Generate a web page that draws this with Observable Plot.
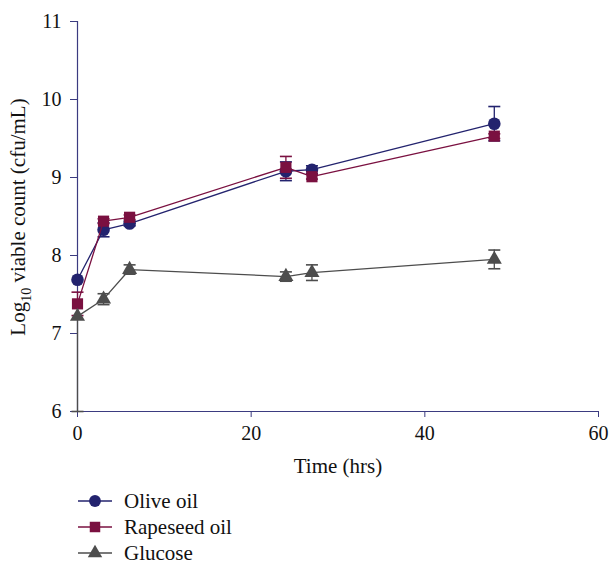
<!DOCTYPE html>
<html><head><meta charset="utf-8">
<script src="https://cdn.jsdelivr.net/npm/d3@7"></script>
<script src="https://cdn.jsdelivr.net/npm/@observablehq/plot@0.6"></script>
<style>
body{margin:0;background:#fff;font-family:"Liberation Serif","DejaVu Serif",serif;overflow:hidden;}
#legend{margin-left:78px;margin-top:10px;font-size:21px;line-height:24px;color:#111;}
.li{display:flex;align-items:center;height:26px;}
.li svg{margin-right:12px;}
</style>
</head><body>
<div id="chart"></div>
<div id="legend"></div>
<script>
const times = [0, 3, 6, 24, 27, 48];
const series = ["Olive oil", "Rapeseed oil", "Glucose"];
const oliveMean = [7.69, 8.33, 8.41, 9.08, 9.10, 9.69];
const oliveErr  = [0.00, 0.09, 0.03, 0.12, 0.05, 0.22];
const rapeMean  = [7.38, 8.44, 8.49, 9.13, 9.01, 9.53];
const rapeErr   = [0.15, 0.03, 0.03, 0.14, 0.03, 0.03];
const glucMean  = [7.22, 7.44, 7.82, 7.73, 7.78, 7.95];
const glucErrLo = [1.22, 0.07, 0.06, 0.06, 0.10, 0.12];
const glucErrHi = [0.00, 0.07, 0.06, 0.06, 0.10, 0.12];
const colors = ["#23236e", "#7a1040", "#4d4d4d"];
const symbols = ["circle", "square", "triangle"];
const symSize = [6.3, 6.3, 5.6];

const means = [oliveMean, rapeMean, glucMean];
const errLo = [oliveErr, rapeErr, glucErrLo];
const errHi = [oliveErr, rapeErr, glucErrHi];
const data = [];
series.forEach((s, i) => times.forEach((t, j) => data.push({
  series: s, t, v: means[i][j],
  lo: Math.max(6, means[i][j] - errLo[i][j]), hi: means[i][j] + errHi[i][j],
  hasLo: errLo[i][j] > 0, hasHi: errHi[i][j] > 0
})));

const cap = {draw(ctx, size){ const w = 6; ctx.moveTo(-w, 0); ctx.lineTo(w, 0); }};

const marks = [
  Plot.ruleY([6], {stroke: "#3b3b80", strokeWidth: 1.2}),
  Plot.ruleX([0], {y1: 6, y2: 11, stroke: "#3b3b80", strokeWidth: 1.2}),
];
series.forEach((s, i) => {
  const d = data.filter(r => r.series === s);
  marks.push(
    Plot.ruleX(d, {x: "t", y1: "lo", y2: "hi", stroke: colors[i], strokeWidth: 1.3}),
    Plot.dot(d.filter(r => r.hasLo), {x: "t", y: "lo", symbol: cap, stroke: colors[i], strokeWidth: 1.6}),
    Plot.dot(d.filter(r => r.hasHi), {x: "t", y: "hi", symbol: cap, stroke: colors[i], strokeWidth: 1.6}),
  );
});
series.forEach((s, i) => {
  const d = data.filter(r => r.series === s);
  marks.push(
    Plot.line(d, {x: "t", y: "v", stroke: colors[i], strokeWidth: 1.3}),
    Plot.dot(d, {x: "t", y: "v", symbol: symbols[i], fill: colors[i], r: symSize[i], stroke: "none"})
  );
});

const chart = Plot.plot({
  width: 611, height: 478,
  marginLeft: 77, marginRight: 13, marginTop: 21, marginBottom: 67,
  style: {fontFamily: '"Liberation Serif","DejaVu Serif",serif', fontSize: "20px", color: "#111", background: "#fff"},
  x: {domain: [0, 60], label: null},
  y: {domain: [6, 11], label: null},
  marks: [
    Plot.axisX({ticks: [0, 20, 40, 60], tickFormat: "d", tickSize: 6, tickPadding: 8, stroke: "#3b3b80", label: null, fill: "#111", fontSize: 20}),
    Plot.axisY({ticks: [6, 7, 8, 9, 10, 11], tickFormat: "d", tickSize: 7, tickPadding: 9, stroke: "#3b3b80", label: null, fill: "#111", fontSize: 20}),
    ...marks
  ]
});
document.getElementById("chart").appendChild(chart);

const svg = d3.select(chart);
svg.append("text").attr("x", 338).attr("y", 473).attr("text-anchor", "middle")
  .attr("font-size", 21).attr("fill", "#111").text("Time (hrs)");
const yl = svg.append("text").attr("transform", "translate(25,217) rotate(-90)")
  .attr("text-anchor", "middle").attr("font-size", 21).attr("fill", "#111");
yl.append("tspan").text("Log");
yl.append("tspan").attr("font-size", 14).attr("dy", 6).text("10");
yl.append("tspan").attr("dy", -6).text(" viable count (cfu/mL)");

const leg = d3.select("#legend");
series.forEach((s, i) => {
  const row = leg.append("div").attr("class", "li");
  const sv = row.append("svg").attr("width", 34).attr("height", 18);
  sv.append("line").attr("x1", 0).attr("x2", 34).attr("y1", 9).attr("y2", 9).attr("stroke", colors[i]).attr("stroke-width", 1.3);
  sv.append("path").attr("transform", "translate(17,9)").attr("fill", colors[i])
    .attr("d", d3.symbol(i === 0 ? d3.symbolCircle : i === 1 ? d3.symbolSquare : d3.symbolTriangle, i === 2 ? 90 : 110)());
  row.append("span").text(s);
});
</script>
</body></html>
